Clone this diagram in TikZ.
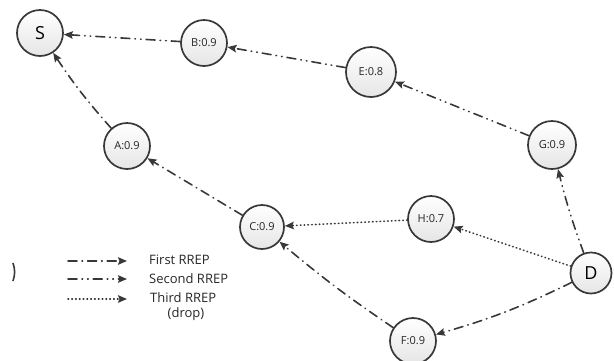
\documentclass[tikz,border=0pt]{standalone}
\usepackage{fontspec}
\setmainfont{Open Sans}
\usetikzlibrary{arrows.meta}
\definecolor{ink}{HTML}{383838}
\tikzset{
  relay/.style={circle, draw=ink, line width=1.7pt, inner sep=0pt,
    top color=white, bottom color=black!10, text=black!85,
    font=\fontsize{11}{12}\selectfont},
  endpoint/.style={relay, font=\fontsize{18}{20}\selectfont, text=black},
  route/.style={draw=ink, line width=1.6pt, line cap=round,
    -{Stealth[length=9pt,width=7.5pt,inset=1.5pt]}},
  firstrrep/.style={route, dash pattern=on 9pt off 5pt on 0.6pt off 5pt},
  secondrrep/.style={route, dash pattern=on 9pt off 5pt on 0.6pt off 5pt on 0.6pt off 5pt},
  thirdrrep/.style={route, dash pattern=on 0.6pt off 3.2pt},
  legendtext/.style={anchor=west, inner sep=0pt, text=black!85,
    font=\fontsize{13}{14}\selectfont}
}
\begin{document}
\begin{tikzpicture}[x=1pt,y=1pt]
  \useasboundingbox (0,0) rectangle (614,-360);

  % network nodes
  \node[endpoint, minimum size=46pt] (S) at (40,-33) {S};
  \node[relay, minimum size=46pt] (B) at (204,-43) {B:0.9};
  \node[relay, minimum size=50pt] (E) at (371,-72) {E:0.8};
  \node[relay, minimum size=48pt] (G) at (552,-145) {G:0.9};
  \node[relay, minimum size=46pt] (A) at (127,-146) {A:0.9};
  \node[relay, minimum size=44pt] (C) at (262,-227) {C:0.9};
  \node[relay, minimum size=46pt] (H) at (431,-219) {H:0.7};
  \node[endpoint, minimum size=41pt] (D) at (591,-273) {D};
  \node[relay, minimum size=46pt] (F) at (413,-341) {F:0.9};

  % second RREP: D - G - E - B - S
  \draw[secondrrep] (D) to[bend left=3] (G);
  \draw[secondrrep] (G) to (E);
  \draw[secondrrep] (E) to (B);
  \draw[secondrrep] (B) to (S);

  % first RREP: D - F - C - A - S
  \draw[firstrrep] (D) to[bend left=5] (F);
  \draw[firstrrep] (F) to[bend left=3] (C);
  \draw[firstrrep] (C) to (A);
  \draw[firstrrep] (A) to[bend left=4] (S);

  % third RREP, dropped at C
  \draw[thirdrrep] (D) to (H);
  \draw[thirdrrep] (H) to (C);

  % legend
  \coordinate (l1a) at (68,-261); \coordinate (l1b) at (127,-261);
  \coordinate (l2a) at (68,-279); \coordinate (l2b) at (127,-279);
  \coordinate (l3a) at (68,-299); \coordinate (l3b) at (127,-299);
  \draw[firstrrep] (l1a) -- (l1b);
  \draw[secondrrep] (l2a) -- (l2b);
  \draw[thirdrrep] (l3a) -- (l3b);
  \node[legendtext] (t1) at (149,-260) {First RREP};
  \node[legendtext] (t2) at (149,-279) {Second RREP};
  \node[legendtext] (t3) at (150,-298) {Third RREP};
  \node[legendtext, anchor=center] (t4) at (186,-314) {(drop)};

  % clipped bracket at the left edge
  \draw[ink, line width=1.6pt] (13,-263) to[bend left=18] (13,-281);
\end{tikzpicture}
\end{document}
